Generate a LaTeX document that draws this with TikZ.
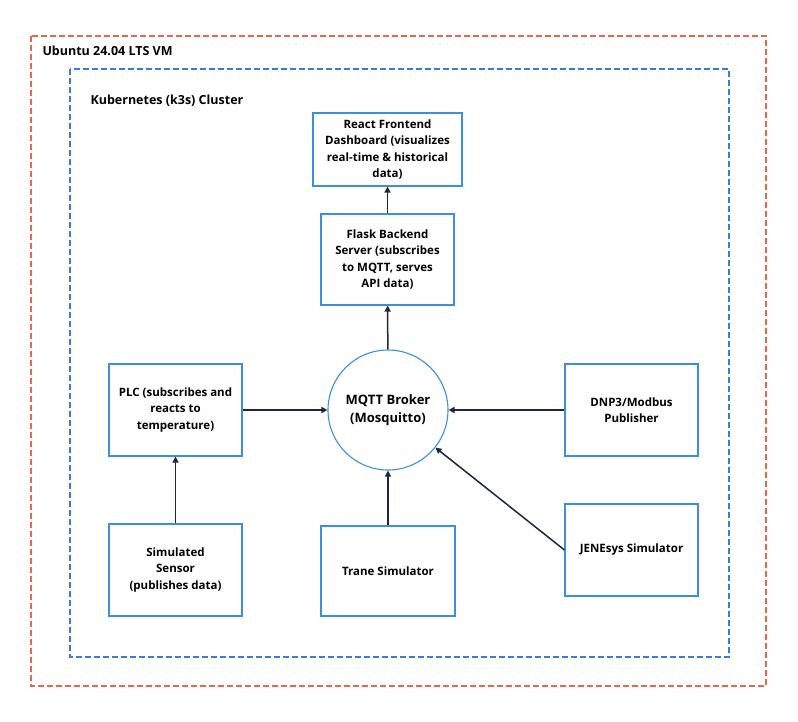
\documentclass[tikz,border=0pt]{standalone}
\usepackage{fontspec}
\setmainfont{Open Sans}
\usetikzlibrary{arrows.meta}
\definecolor{bx}{HTML}{3A8FE0}
\definecolor{ar}{HTML}{1B2642}
\definecolor{rd}{HTML}{E8674A}
\definecolor{bd}{HTML}{3B7BE0}
\begin{document}
\begin{tikzpicture}[x=1pt,y=-1pt,
 box/.style={draw=bx,line width=1.1pt,align=center,font=\bfseries\fontsize{11.5}{16.5}\selectfont,inner sep=0pt},
 arr/.style={draw=ar,line width=1.5pt,-{Triangle[length=6pt,width=6pt]}},
 dsh/.style={line width=1.1pt,dash pattern=on 6pt off 3pt}]
\useasboundingbox (0,0) rectangle (798,721);
\draw[rd,dsh] (31,36) rectangle (766,686);
\draw[bd,dsh] (70,69) rectangle (729,657);
\node[anchor=west,font=\bfseries\fontsize{12.5}{14}\selectfont] (vm) at (39,51) {Ubuntu 24.04 LTS VM};
\node[anchor=west,font=\bfseries\fontsize{12.5}{14}\selectfont] (k8) at (87,101) {Kubernetes (k3s) Cluster};
\node[box,minimum width=149pt,minimum height=73pt] (react) at (387.5,149.5) {React Frontend\\Dashboard (visualizes\\real-time \& historical\\data)};
\node[box,minimum width=133pt,minimum height=91pt] (flask) at (387.5,259.5) {Flask Backend\\Server (subscribes\\to MQTT, serves\\API data)};
\node[box,minimum width=133pt,minimum height=92pt] (plc) at (175.5,410) {PLC (subscribes and\\reacts to\\temperature)};
\node[box,circle,minimum size=120pt,font=\bfseries\fontsize{13}{18}\selectfont] (mqtt) at (388,410) {MQTT Broker\\(Mosquitto)};
\node[box,minimum width=133pt,minimum height=92pt] (dnp) at (631.5,410) {DNP3/Modbus\\Publisher};
\node[box,minimum width=133pt,minimum height=92pt] (sens) at (175.5,570) {Simulated\\Sensor\\(publishes data)};
\node[box,minimum width=134pt,minimum height=90pt] (trane) at (388,571) {Trane Simulator};
\node[box,minimum width=133pt,minimum height=92pt] (jen) at (631.5,550) {JENEsys Simulator};
\draw[arr] (flask) -- (react);
\draw[arr] (mqtt) -- (flask);
\draw[arr] (plc) -- (mqtt);
\draw[arr] (dnp) -- (mqtt);
\draw[arr] (sens) -- (plc);
\draw[arr] (trane) -- (mqtt);
\draw[arr] (jen.west) -- (mqtt);
\end{tikzpicture}
\end{document}
